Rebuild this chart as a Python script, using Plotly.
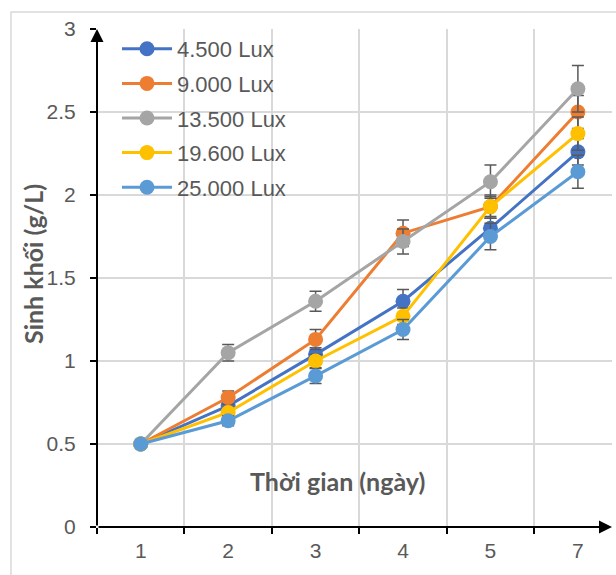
import plotly.graph_objects as go

days = ["1", "2", "3", "4", "5", "7"]
series_names = ["4.500 Lux", "9.000 Lux", "13.500 Lux", "19.600 Lux", "25.000 Lux"]
lux_4500 = [0.50, 0.73, 1.04, 1.36, 1.80, 2.26]
lux_9000 = [0.50, 0.78, 1.13, 1.77, 1.93, 2.50]
lux_13500 = [0.50, 1.05, 1.36, 1.72, 2.08, 2.64]
lux_19600 = [0.50, 0.69, 1.00, 1.27, 1.93, 2.37]
lux_25000 = [0.50, 0.64, 0.91, 1.19, 1.75, 2.14]
err_4500 = [0.0, 0.03, 0.04, 0.07, 0.06, 0.08]
err_9000 = [0.0, 0.04, 0.06, 0.08, 0.07, 0.10]
err_13500 = [0.0, 0.05, 0.06, 0.075, 0.10, 0.14]
err_19600 = [0.0, 0.03, 0.04, 0.05, 0.06, 0.10]
err_25000 = [0.0, 0.03, 0.045, 0.06, 0.08, 0.10]
colors = ["#4472C4", "#ED7D31", "#A5A5A5", "#FFC000", "#5B9BD5"]

values = [lux_4500, lux_9000, lux_13500, lux_19600, lux_25000]
errors = [err_4500, err_9000, err_13500, err_19600, err_25000]

W, H = 616, 575
L, R, T, B = 97, 4, 29, 48
pw, ph = W - L - R, H - T - B

def px_x(x):
    return (x - L) / pw

def px_y(y):
    return (H - B - y) / ph

fig = go.Figure()
for i, (name, v, e, c) in enumerate(zip(series_names, values, errors, colors)):
    fig.add_trace(go.Scatter(
        x=days, y=v, name=name, mode="lines+markers",
        legendgroup="g%d" % i,
        line=dict(color=c, width=3),
        marker=dict(color=c, size=15),
        error_y=dict(type="data", array=e, visible=True, color="#595959",
                     thickness=1.5, width=6),
        cliponaxis=False,
    ))

tick_font = dict(family="Liberation Sans, Arial, sans-serif", size=21, color="#595959")
title_font = dict(family="Lato, sans-serif", size=25, color="#595959")

fig.update_layout(
    width=W, height=H,
    margin=dict(l=L, r=R, t=T, b=B, autoexpand=False),
    paper_bgcolor="white", plot_bgcolor="white",
    showlegend=True,
    legend=dict(
        x=px_x(117), y=px_y(28), xanchor="left", yanchor="top",
        bgcolor="rgba(0,0,0,0)",
        font=dict(family="Liberation Sans, Arial, sans-serif", size=22, color="#595959"),
        itemwidth=50, tracegroupgap=3,
    ),
    xaxis=dict(
        type="category", range=[-0.5, 5.39], automargin=False,
        tickson="boundaries", showgrid=True, gridcolor="#D9D9D9", gridwidth=1.5,
        ticks="outside", ticklen=6, tickwidth=2, tickcolor="black",
        tickfont=tick_font, showline=False, zeroline=False,
        ticklabelstandoff=9,
    ),
    yaxis=dict(
        range=[0, 3], tickvals=[0, 0.5, 1, 1.5, 2, 2.5, 3], automargin=False,
        ticktext=["0", "0.5", "1", "1.5", "2", "2.5", "3"],
        showgrid=True, gridcolor="#D9D9D9", gridwidth=1.5,
        ticks="outside", ticklen=6, tickwidth=1.5, tickcolor="black",
        tickfont=tick_font, showline=False, zeroline=False,
        ticklabelstandoff=10,
    ),
    shapes=[
        dict(type="rect", xref="paper", yref="paper",
             x0=px_x(11), x1=1.2, y0=-0.3, y1=px_y(12),
             line=dict(color="#D9D9D9", width=1.5), fillcolor="rgba(0,0,0,0)",
             layer="below"),
    ],
    annotations=[
        dict(x=0, y=1.0, xref="paper", yref="paper", text="", showarrow=True,
             ax=0, ay=ph, arrowhead=2, arrowsize=1.3, arrowwidth=2,
             arrowcolor="black", standoff=0, startstandoff=0),
        dict(x=1.0, y=0, xref="paper", yref="paper", text="", showarrow=True,
             ax=-pw, ay=0, arrowhead=2, arrowsize=1.3, arrowwidth=2,
             arrowcolor="black", standoff=0, startstandoff=0),
        dict(x=px_x(33), y=px_y(264), xref="paper", yref="paper",
             text="<b>Sinh khối (g/L)</b>", textangle=-90, showarrow=False,
             font=title_font, xanchor="center", yanchor="middle"),
        dict(x=px_x(337), y=px_y(481), xref="paper", yref="paper",
             text="<b>Thời gian (ngày)</b>", showarrow=False,
             font=title_font, xanchor="center", yanchor="middle"),
    ],
)

fig.write_html("out.html", config={"displayModeBar": False})

with open("out.html", "r", encoding="utf-8") as f:
    html = f.read()
html = html.replace("<head>", "<head><style>html,body{margin:0;padding:0;overflow:hidden;}</style>", 1)
with open("out.html", "w", encoding="utf-8") as f:
    f.write(html)
